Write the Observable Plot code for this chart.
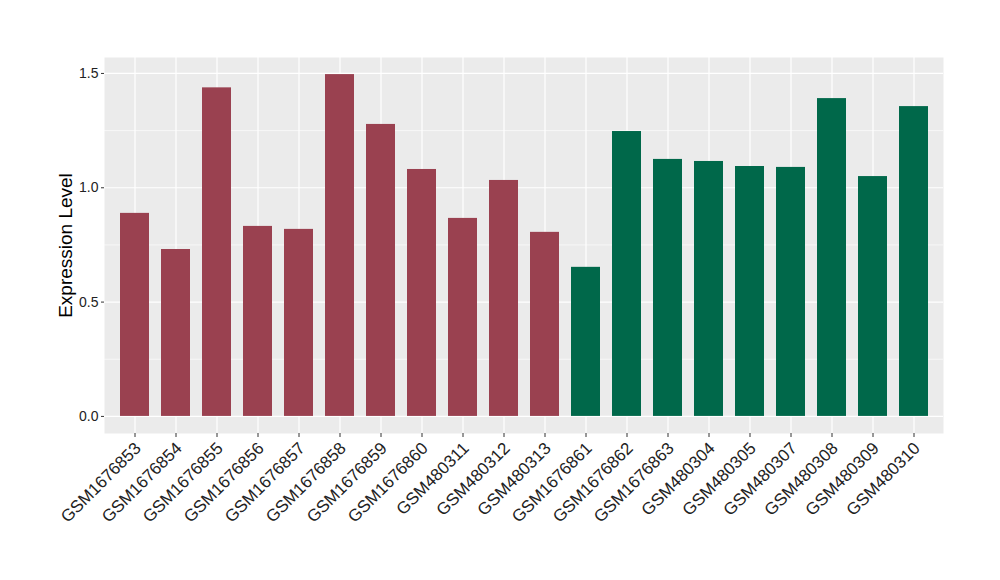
<!DOCTYPE html>
<html>
<head>
<meta charset="utf-8">
<script src="https://cdn.jsdelivr.net/npm/d3@7"></script>
<script src="https://cdn.jsdelivr.net/npm/@observablehq/plot@0.6"></script>
<style>
  html, body { margin: 0; padding: 0; background: #fff; }
  #chart svg { display: block; font-family: "Liberation Sans", Arial, sans-serif; }
</style>
</head>
<body>
<div id="chart"></div>
<script>
const samples = ["GSM1676853","GSM1676854","GSM1676855","GSM1676856","GSM1676857","GSM1676858","GSM1676859","GSM1676860","GSM480311","GSM480312","GSM480313","GSM1676861","GSM1676862","GSM1676863","GSM480304","GSM480305","GSM480307","GSM480308","GSM480309","GSM480310"];
const values = [0.888,0.730,1.437,0.831,0.818,1.495,1.277,1.080,0.866,1.032,0.805,0.652,1.246,1.124,1.115,1.093,1.089,1.390,1.049,1.355];
const groups = ["A","A","A","A","A","A","A","A","A","A","A","B","B","B","B","B","B","B","B","B"];
const groupNames = ["A","B"];
const groupColors = ["#9a4150","#00684a"];
const majorTicks = [0, 0.5, 1.0, 1.5];
const minorTicks = [0.25, 0.75, 1.25];

const data = samples.map((s, i) => ({sample: s, value: values[i], group: groups[i]}));

const yMax = d3.max(values);
const pad = yMax * 0.05;

const chart = Plot.plot({
  width: 1000,
  height: 580,
  marginLeft: 104,
  marginRight: 57,
  marginTop: 57,
  marginBottom: 147,
  style: {fontFamily: "Liberation Sans, Arial, sans-serif", background: "#fff"},
  x: {domain: samples, paddingInner: 0.3, paddingOuter: 0.25, label: null},
  y: {domain: [-pad, yMax + pad], label: null},
  color: {domain: groupNames, range: groupColors},
  marks: [
    Plot.frame({fill: "#ebebeb", stroke: null}),
    Plot.gridY(minorTicks, {stroke: "#fff", strokeOpacity: 1, strokeWidth: 0.6}),
    Plot.gridY(majorTicks, {stroke: "#fff", strokeOpacity: 1, strokeWidth: 1.2}),
    Plot.gridX({stroke: "#fff", strokeOpacity: 1, strokeWidth: 1.2}),
    Plot.barY(data, {x: "sample", y: "value", fill: "group"}),
    Plot.axisY(majorTicks, {tickFormat: d3.format(".1f"), fontSize: 14, tickSize: 3, tickPadding: 3, stroke: "#333", color: "#222", label: null}),
    Plot.axisX({tickSize: 4, stroke: "#333", tickFormat: null, label: null}),
    Plot.axisX({tickSize: 0, tickRotate: -45, textAnchor: "end", fontSize: 17, tickPadding: 10, dx: 3, dy: 2, color: "#222", label: null}),
    Plot.text(["Expression Level"], {frameAnchor: "left", textAnchor: "middle", dx: -39, rotate: -90, fontSize: 19, fill: "#000"})
  ]
});
document.getElementById("chart").appendChild(chart);
</script>
</body>
</html>
